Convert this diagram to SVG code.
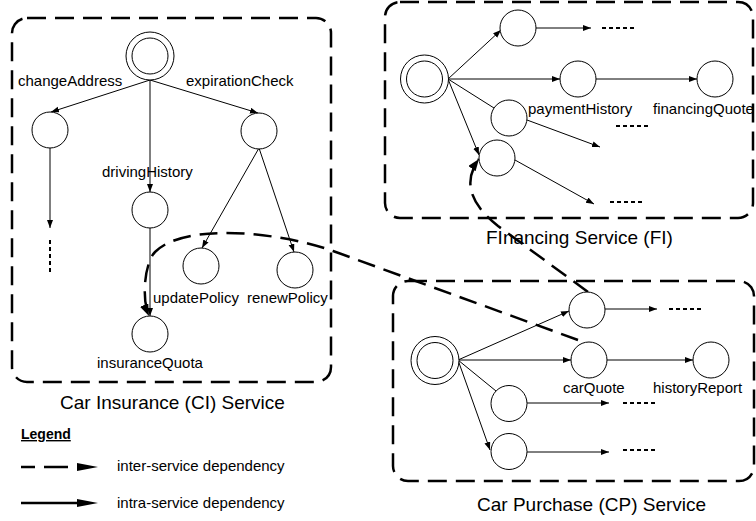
<svg xmlns="http://www.w3.org/2000/svg" width="756" height="521" viewBox="0 0 756 521">
<defs>
<style>
text{font-family:"Liberation Sans",Arial,sans-serif;fill:#000}
.lbl{font-size:15px}
.title{font-size:19px}
.box{fill:none;stroke:#000;stroke-width:2.5;stroke-dasharray:19 9}
.n{fill:#fff;stroke:#000;stroke-width:1}
.e{fill:none;stroke:#000;stroke-width:1}
.ea{fill:none;stroke:#000;stroke-width:1;marker-end:url(#ah)}
.dots{fill:none;stroke:#000;stroke-width:2;stroke-dasharray:4 3}
.inter{fill:none;stroke:#000;stroke-width:2.5;stroke-dasharray:18 9;marker-end:url(#ahb)}
</style>
<marker id="ah" markerWidth="9" markerHeight="7" refX="8" refY="3" orient="auto" markerUnits="userSpaceOnUse"><path d="M0,0 L8,3 L0,6 z" fill="#000"/></marker>
<marker id="ahb" markerWidth="13" markerHeight="10" refX="12" refY="4.5" orient="auto" markerUnits="userSpaceOnUse"><path d="M0,0 L12,4.5 L0,9 z" fill="#000"/></marker>
</defs>

<g id="ci-service">
<rect class="box" x="12" y="18" width="319" height="364" rx="15"/>
<text class="title" x="60" y="409">Car Insurance (CI) Service</text>
</g>
<g id="fi-service">
<rect class="box" x="385" y="2" width="368" height="216" rx="15"/>
<text class="title" x="486" y="244">FInancing Service (FI)</text>
</g>
<g id="cp-service">
<rect class="box" x="393" y="281" width="361" height="200" rx="15"/>
<text class="title" x="477" y="511">Car Purchase (CP) Service</text>
</g>

<g id="connectors">
<!-- CI -->
<line class="ea" x1="150" y1="80" x2="51" y2="112"/>
<line class="ea" x1="150" y1="80" x2="150" y2="192"/>
<line class="ea" x1="150" y1="80" x2="258" y2="113"/>
<line class="ea" x1="50" y1="148" x2="50" y2="228"/>
<line class="dots" x1="50" y1="240" x2="50" y2="273"/>
<line class="ea" x1="150" y1="228" x2="150" y2="316"/>
<line class="ea" x1="259" y1="148" x2="202" y2="248"/>
<line class="ea" x1="259" y1="148" x2="294" y2="252"/>
<!-- FI -->
<line class="ea" x1="448" y1="79" x2="501" y2="30"/>
<line class="ea" x1="448" y1="79" x2="560" y2="79"/>
<line class="e" x1="448" y1="79" x2="494" y2="108"/>
<line class="ea" x1="448" y1="79" x2="479" y2="155"/>
<line class="ea" x1="536" y1="28" x2="591" y2="28"/>
<line class="dots" x1="602" y1="28" x2="636" y2="28"/>
<line class="ea" x1="596" y1="79" x2="697" y2="79"/>
<line class="ea" x1="527" y1="120" x2="600" y2="147"/>
<line class="dots" x1="616" y1="126" x2="650" y2="126"/>
<line class="ea" x1="515" y1="160" x2="594" y2="204"/>
<line class="dots" x1="610" y1="202" x2="644" y2="202"/>
<!-- CP -->
<line class="ea" x1="458" y1="360" x2="569" y2="311"/>
<line class="ea" x1="605" y1="309" x2="657" y2="309"/>
<line class="dots" x1="669" y1="309" x2="703" y2="309"/>
<line class="ea" x1="458" y1="360" x2="571" y2="360"/>
<line class="ea" x1="607" y1="360" x2="693" y2="360"/>
<line class="e" x1="458" y1="360" x2="496" y2="391"/>
<line class="ea" x1="527" y1="403" x2="609" y2="403"/>
<line class="dots" x1="623" y1="403" x2="657" y2="403"/>
<line class="ea" x1="458" y1="360" x2="490" y2="450"/>
<line class="ea" x1="527" y1="452" x2="609" y2="452"/>
<line class="dots" x1="623" y1="450" x2="657" y2="450"/>
<!-- inter-service -->
<path class="inter" d="M578,340 L333,251 C280,232 185,222 155,252 C145,262 141,298 149,316"/>
<path class="inter" d="M588,292 L498,226 C475,208 460,185 479,159"/>
</g>

<g id="ci-root"><circle class="n" cx="150" cy="56" r="24"/><circle class="n" cx="150" cy="56" r="18"/></g>
<g id="ci-change"><circle class="n" cx="50" cy="130" r="18"/><text class="lbl" x="18" y="86">changeAddress</text></g>
<g id="ci-driving"><circle class="n" cx="150" cy="210" r="18"/><text class="lbl" x="102" y="177">drivingHistory</text></g>
<g id="ci-expiration"><circle class="n" cx="259" cy="131" r="18"/><text class="lbl" x="186" y="86">expirationCheck</text></g>
<g id="ci-update"><circle class="n" cx="201" cy="266" r="18"/><text class="lbl" x="153" y="303">updatePolicy</text></g>
<g id="ci-renew"><circle class="n" cx="295" cy="270" r="18"/><text class="lbl" x="247" y="303">renewPolicy</text></g>
<g id="ci-insurance"><circle class="n" cx="150" cy="334" r="18"/><text class="lbl" x="97" y="368">insuranceQuota</text></g>

<g id="fi-root"><circle class="n" cx="424.5" cy="79" r="24"/><circle class="n" cx="424.5" cy="79" r="18"/></g>
<g id="fi-n1"><circle class="n" cx="518" cy="28" r="18"/></g>
<g id="fi-payment"><circle class="n" cx="578" cy="79" r="18"/><text class="lbl" x="528" y="114">paymentHistory</text></g>
<g id="fi-financing"><circle class="n" cx="715" cy="79" r="18"/><text class="lbl" x="653" y="114">financingQuote</text></g>
<g id="fi-n3"><circle class="n" cx="509" cy="118" r="18"/></g>
<g id="fi-n4"><circle class="n" cx="497" cy="158" r="18"/></g>

<g id="cp-root"><circle class="n" cx="435" cy="360.5" r="24"/><circle class="n" cx="435" cy="360.5" r="18"/></g>
<g id="cp-n1"><circle class="n" cx="587" cy="310" r="18"/></g>
<g id="cp-carquote"><circle class="n" cx="589" cy="360" r="18"/><text class="lbl" x="563" y="393">carQuote</text></g>
<g id="cp-history"><circle class="n" cx="711" cy="360" r="18"/><text class="lbl" x="653" y="393">historyReport</text></g>
<g id="cp-n3"><circle class="n" cx="509" cy="403.5" r="18"/></g>
<g id="cp-n4"><circle class="n" cx="509" cy="451.5" r="18"/></g>

<g id="legend">
<text x="21" y="439" font-size="14" font-weight="bold" text-decoration="underline">Legend</text>
<path d="M21,467 H35 M44,467 H68" stroke="#000" stroke-width="2.5" fill="none"/>
<polygon points="77,463 98,467 77,471" fill="#000"/>
<line x1="21" y1="503" x2="80" y2="503" stroke="#000" stroke-width="2.5"/>
<polygon points="77,499 98,503 77,507" fill="#000"/>
<text class="lbl" x="117" y="471">inter-service dependency</text>
<text class="lbl" x="117" y="508">intra-service dependency</text>
</g>
</svg>
